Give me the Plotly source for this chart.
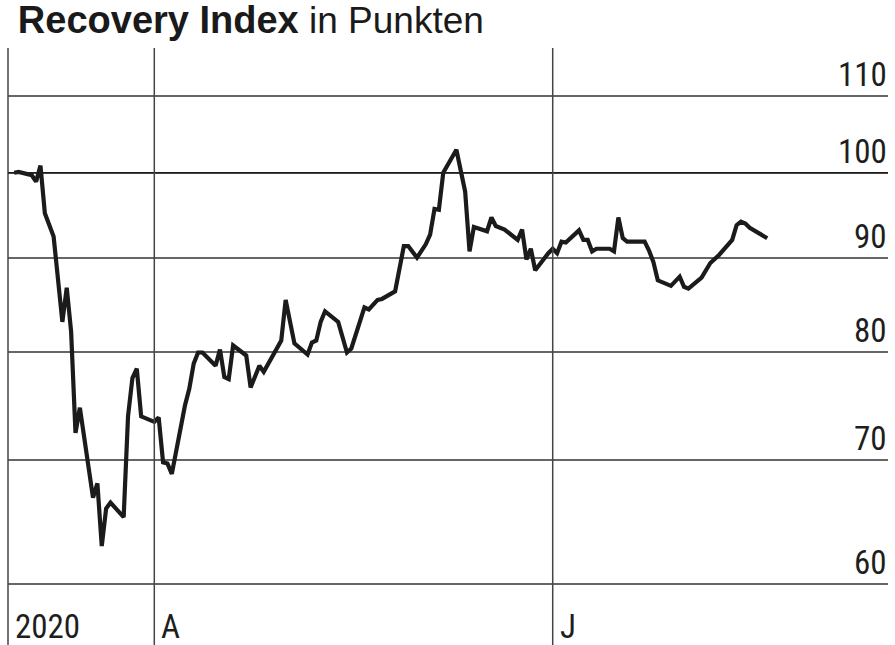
import math
import plotly.graph_objects as go

# Recovery Index, daily points (2020)
dates = [
    "2020-02-29", "2020-03-01", "2020-03-04", "2020-03-05", "2020-03-06", "2020-03-07",
    "2020-03-09", "2020-03-11", "2020-03-12", "2020-03-13", "2020-03-14", "2020-03-15",
    "2020-03-18", "2020-03-19", "2020-03-20", "2020-03-21", "2020-03-22", "2020-03-25",
    "2020-03-26", "2020-03-27", "2020-03-28", "2020-03-29", "2020-04-01", "2020-04-02",
    "2020-04-03", "2020-04-04", "2020-04-05", "2020-04-08", "2020-04-09", "2020-04-10",
    "2020-04-11", "2020-04-12", "2020-04-15", "2020-04-16", "2020-04-17", "2020-04-18",
    "2020-04-19", "2020-04-22", "2020-04-23", "2020-04-25", "2020-04-26", "2020-04-28",
    "2020-04-30", "2020-05-01", "2020-05-03", "2020-05-06", "2020-05-07", "2020-05-08",
    "2020-05-09", "2020-05-10", "2020-05-13", "2020-05-15", "2020-05-16", "2020-05-19",
    "2020-05-20", "2020-05-22", "2020-05-23", "2020-05-26", "2020-05-28", "2020-05-29",
    "2020-05-31", "2020-06-02", "2020-06-03", "2020-06-04", "2020-06-05", "2020-06-06",
    "2020-06-09", "2020-06-11", "2020-06-12", "2020-06-13", "2020-06-16", "2020-06-17",
    "2020-06-18", "2020-06-20", "2020-06-23", "2020-06-24", "2020-06-25", "2020-06-26",
    "2020-06-27", "2020-06-30", "2020-07-01", "2020-07-02", "2020-07-03", "2020-07-04",
    "2020-07-07", "2020-07-08", "2020-07-09", "2020-07-10", "2020-07-11", "2020-07-14",
    "2020-07-15", "2020-07-16", "2020-07-17", "2020-07-18", "2020-07-22", "2020-07-23",
    "2020-07-24", "2020-07-25", "2020-07-28", "2020-07-30", "2020-07-31", "2020-08-01",
    "2020-08-04", "2020-08-06", "2020-08-07", "2020-08-08", "2020-08-11", "2020-08-12",
    "2020-08-13", "2020-08-14", "2020-08-15", "2020-08-17", "2020-08-19",
]
values = [
    100.0, 100.1, 99.7, 98.9, 100.9, 95.1,
    92.4, 83.1, 86.7, 82.1, 72.4, 74.7,
    66.8, 68.0, 62.9, 65.9, 66.4, 65.2,
    73.9, 77.5, 78.4, 73.9, 73.4, 73.8,
    69.8, 69.7, 68.8, 74.9, 76.5, 78.9,
    80.0, 80.0, 78.7, 80.3, 77.6, 77.4,
    80.7, 79.7, 76.6, 78.7, 78.1, 79.6,
    81.2, 85.4, 80.9, 79.8, 81.0, 81.2,
    83.1, 84.2, 83.1, 80.0, 80.4, 84.6,
    84.4, 85.4, 85.5, 86.3, 91.3, 91.3,
    90.0, 91.5, 92.6, 95.6, 95.5, 100.0,
    102.9, 97.7, 90.7, 93.5, 93.0, 94.6,
    93.6, 93.2, 92.0, 93.2, 89.8, 91.0,
    88.6, 90.5, 91.0, 90.5, 91.8, 91.7,
    93.1, 92.0, 92.0, 90.7, 91.0, 91.0,
    90.7, 94.6, 92.2, 91.8, 91.8, 90.8,
    89.5, 87.5, 86.9, 87.9, 86.8, 86.6,
    87.8, 89.4, 89.9, 90.3, 92.0, 93.7,
    94.1, 93.9, 93.4, 92.8, 92.2,
]

y_ticks = [60, 70, 80, 90, 100, 110]
x_tick_dates = ["2020-04-01", "2020-07-01"]
x_tick_labels = ["A", "J"]
year_label = "2020"

narrow = "Liberation Sans Narrow, Arial Narrow, Roboto Condensed, DejaVu Sans Condensed, sans-serif"
label_color = "#1e1e1e"
below = -0.0815  # vertical lines run down into the label strip

fig = go.Figure(
    go.Scatter(
        x=dates,
        y=values,
        mode="lines",
        line=dict(color="#1b1b1b", width=4.2),
        hoverinfo="skip",
    )
)

shapes = [
    dict(type="line", xref="paper", yref="paper", x0=0, x1=0, y0=below, y1=1,
         line=dict(color="#444444", width=1.5)),
    dict(type="line", xref="paper", yref="y", x0=0, x1=1, y0=100, y1=100,
         line=dict(color="#1e1e1e", width=1.5)),
]
for d in x_tick_dates:
    shapes.append(dict(type="line", xref="x", yref="paper", x0=d, x1=d, y0=below, y1=1,
                       line=dict(color="#444444", width=1.5)))

annotations = []
for v in y_ticks:
    annotations.append(dict(
        text=str(v), xref="paper", yref="y", x=1, y=math.log10(v),
        xanchor="right", yanchor="bottom", xshift=1, showarrow=False,
        font=dict(family=narrow, size=33, color=label_color),
    ))
annotations.append(dict(
    text=year_label, xref="paper", yref="paper", x=0, y=below,
    xanchor="left", yanchor="bottom", xshift=5, yshift=-3, showarrow=False,
    font=dict(family=narrow, size=33, color=label_color),
))
for d, lab in zip(x_tick_dates, x_tick_labels):
    annotations.append(dict(
        text=lab, xref="x", yref="paper", x=d, y=below,
        xanchor="left", yanchor="bottom", xshift=5, yshift=-3, showarrow=False,
        font=dict(family=narrow, size=33, color=label_color),
    ))

fig.update_layout(
    width=895,
    height=645,
    margin=dict(l=8, r=7, t=48, b=45),
    paper_bgcolor="white",
    plot_bgcolor="white",
    showlegend=False,
    title=dict(
        text="<b>Recovery Index</b><span style='font-size:37px'> in Punkten</span>",
        x=10 / 895, xanchor="left", xref="paper",
        y=1, yanchor="top", yref="container", pad=dict(t=6, l=0),
        font=dict(family="Liberation Sans, Arial, sans-serif", size=38, color="#1a1a1a"),
    ),
    xaxis=dict(
        type="date",
        range=["2020-02-27 14:00", "2020-09-15 14:00"],
        showgrid=False, zeroline=False, showticklabels=False, ticks="",
    ),
    yaxis=dict(
        type="log",
        range=[1.7696, 2.0673],
        tickvals=y_ticks,
        showticklabels=False, ticks="", zeroline=False,
        showgrid=True, gridcolor="#666666", gridwidth=1.5,
    ),
    shapes=shapes,
    annotations=annotations,
)

# page body has an 8px default margin; drop it so the figure sits at the corner
fig.write_html(
    "out.html",
    config={"displayModeBar": False},
    post_script="document.body.style.margin='0';",
)
